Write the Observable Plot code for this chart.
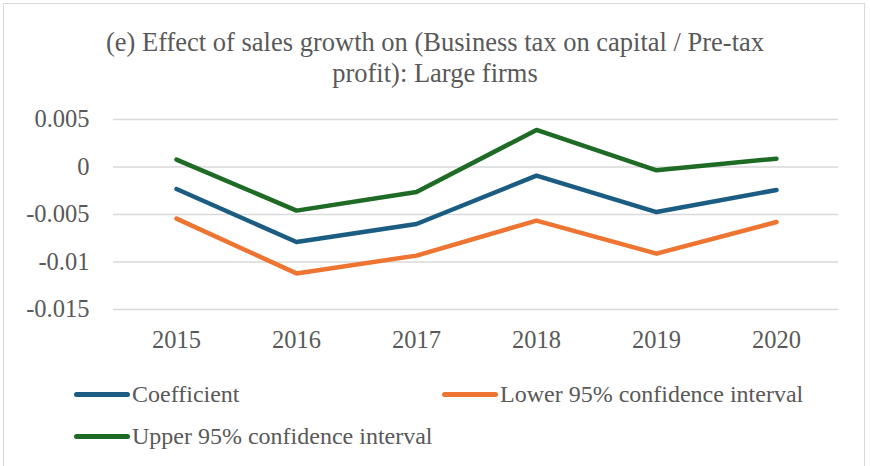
<!DOCTYPE html>
<html>
<head>
<meta charset="utf-8">
<script src="https://cdn.jsdelivr.net/npm/d3@7"></script>
<script src="https://cdn.jsdelivr.net/npm/@observablehq/plot@0.6"></script>
<style>
  html, body { margin: 0; padding: 0; background: #fff; overflow: hidden; }
  #wrap { position: relative; width: 870px; height: 466px; color: #595959; }
  #frame { position: absolute; left: 3px; top: 3px; width: 862px; height: 470px; border: 1.5px solid #d9d9d9; box-sizing: border-box; }
  #title { position: absolute; left: 0; top: 27px; width: 870px; text-align: center; font-size: 26.5px; line-height: 31px; }
  #chart { position: absolute; left: 0; top: 0; }
  .leg { position: absolute; display: flex; align-items: center; font-size: 24px; white-space: nowrap; }
  .sw { width: 56px; height: 5px; border-radius: 3px; margin-right: 2px; }
</style>
</head>
<body>
<div id="wrap" style="font-family:'Liberation Serif'">
  <div id="frame"></div>
  <div id="chart"></div>
  <div id="title" style="font-family:'Liberation Serif'">(e) Effect of sales growth on (Business tax on capital / Pre-tax<br>profit): Large firms</div>
  <div id="legend"></div>
</div>
<script>
const years = ["2015", "2016", "2017", "2018", "2019", "2020"];
const coefficient = [-0.00232, -0.0079, -0.0060, -0.00091, -0.00474, -0.00242];
const lower95 = [-0.00543, -0.0112, -0.00933, -0.00564, -0.00912, -0.00579];
const upper95 = [0.00078, -0.00459, -0.00263, 0.0039, -0.00035, 0.00088];
const seriesNames = ["Coefficient", "Lower 95% confidence interval", "Upper 95% confidence interval"];
const seriesColors = ["#1b5d82", "#ed7431", "#1e6b25"];
const yTicks = [0.005, 0, -0.005, -0.01, -0.015];

const FONT = "'Liberation Serif'";
const seriesValues = [coefficient, lower95, upper95];
const data = [];
seriesNames.forEach((name, s) => {
  years.forEach((yr, i) => data.push({ series: name, year: yr, value: seriesValues[s][i] }));
});

const chart = Plot.plot({
  width: 870,
  height: 466,
  marginLeft: 113,
  marginRight: 32,
  marginTop: 119,
  marginBottom: 157,
  style: { fontSize: "24.5px", color: "#595959", background: "transparent" },
  x: { type: "point", domain: years, padding: 0.5, label: null },
  y: { domain: [-0.015, 0.005], label: null },
  color: { domain: seriesNames, range: seriesColors },
  marks: [
    Plot.ruleY(yTicks, { stroke: "#d9d9d9", strokeWidth: 1.5 }),
    Plot.axisX({ tickSize: 0, tickPadding: 21, fontSize: 24.5, fill: "#595959", label: null }),
    Plot.axisY({ ticks: yTicks, tickSize: 0, tickPadding: 24, fontSize: 24.5, fill: "#595959", tickFormat: d => String(d), label: null }),
    Plot.line(data, { x: "year", y: "value", z: "series", stroke: "series", strokeWidth: 4.5, strokeLinecap: "round", strokeLinejoin: "round" })
  ]
});
chart.style.fontFamily = FONT;
chart.querySelectorAll("text").forEach(t => t.setAttribute("font-family", FONT));
document.getElementById("chart").appendChild(chart);

const legendPos = [[74, 394], [442, 394], [74, 436]];
const legend = document.getElementById("legend");
seriesNames.forEach((name, i) => {
  const item = document.createElement("div");
  item.className = "leg";
  item.style.fontFamily = FONT;
  item.style.left = legendPos[i][0] + "px";
  item.style.top = (legendPos[i][1] - 15) + "px";
  item.style.height = "30px";
  const sw = document.createElement("div");
  sw.className = "sw";
  sw.style.background = seriesColors[i];
  const tx = document.createElement("span");
  tx.textContent = name;
  item.appendChild(sw);
  item.appendChild(tx);
  legend.appendChild(item);
});
</script>
</body>
</html>
